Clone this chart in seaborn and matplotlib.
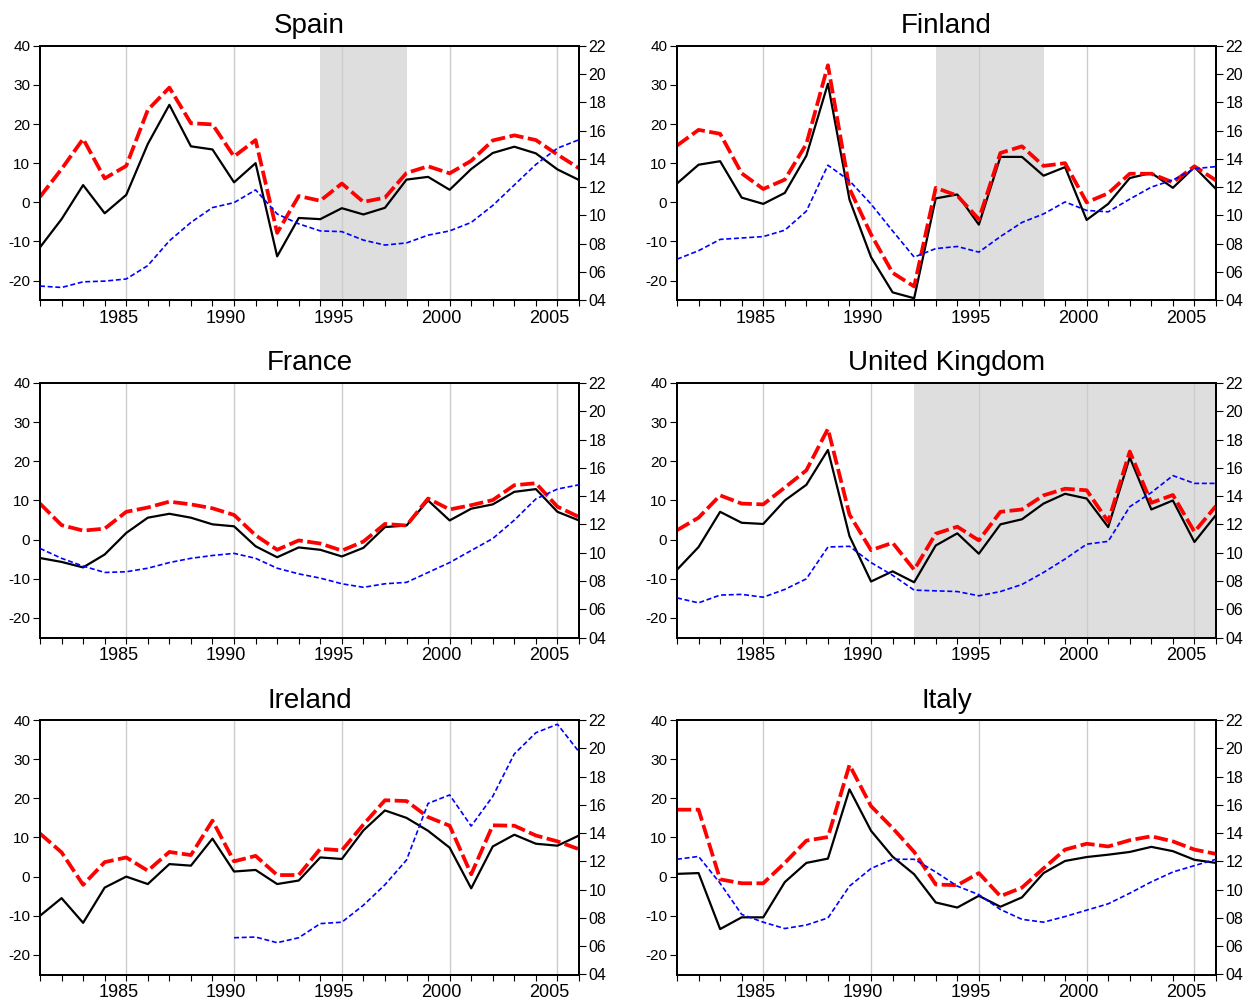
import numpy as np
import pandas as pd
import matplotlib
matplotlib.use("Agg")
import matplotlib.pyplot as plt
import matplotlib.transforms as mtransforms
from matplotlib.ticker import FixedLocator, MultipleLocator, FuncFormatter
import seaborn as sns

# ---------------- data ----------------
years = list(range(1981, 2007))

spain_black = [-11.5, -4.3, 4.4, -2.8, 1.9, 14.9, 24.9, 14.3, 13.5, 5.1, 10.0, -13.8, -4.0,
               -4.3, -1.5, -3.1, -1.4, 5.8, 6.5, 3.2, 8.5, 12.6, 14.2, 12.5, 8.4, 5.7]
spain_red = [1.4, 8.5, 16.2, 6.1, 9.3, 23.6, 29.3, 20.2, 19.9, 11.7, 15.9, -7.8, 1.6,
             0.4, 4.8, 0.1, 1.2, 7.5, 9.2, 7.4, 10.6, 15.8, 17.1, 15.9, 12.2, 8.7]
spain_blue = [5.0, 4.9, 5.3, 5.35, 5.5, 6.45, 8.2, 9.5, 10.55, 10.9, 11.8, 10.1, 9.4,
              8.9, 8.85, 8.25, 7.9, 8.05, 8.6, 8.9, 9.5, 10.7, 12.15, 13.6, 14.75, 15.35]

finland_black = [4.8, 9.6, 10.5, 1.2, -0.4, 2.4, 11.9, 30.3, 0.7, -14.0, -23.0, -24.5, 1.0,
                 2.0, -5.7, 11.6, 11.6, 6.8, 9.0, -4.5, -0.4, 6.2, 7.5, 3.7, 9.0, 3.4]
finland_red = [14.5, 18.5, 17.5, 7.4, 3.4, 5.8, 14.9, 35.0, 3.5, -8.2, -18.0, -21.5, 3.7,
               1.7, -4.3, 12.6, 14.3, 9.3, 10.0, 0.0, 2.3, 7.3, 7.3, 5.1, 9.2, 5.6]
finland_blue = [6.9, 7.5, 8.3, 8.4, 8.5, 8.95, 10.3, 13.55, 12.45, 10.8, 8.9, 7.05, 7.65,
                7.8, 7.4, 8.5, 9.5, 10.1, 10.95, 10.35, 10.25, 11.15, 12.0, 12.5, 13.3, 13.45]

france_black = [-4.7, -5.7, -7.1, -3.8, 1.7, 5.6, 6.6, 5.6, 3.9, 3.4, -1.7, -4.5, -2.0,
                -2.6, -4.3, -2.1, 3.2, 3.6, 10.0, 4.9, 7.9, 9.0, 12.2, 12.9, 7.1, 4.9]
france_red = [9.2, 3.7, 2.3, 2.8, 7.1, 8.2, 9.7, 9.0, 8.0, 6.3, 1.1, -2.6, -0.2,
              -1.0, -2.8, -0.5, 4.0, 3.6, 10.5, 7.7, 8.8, 10.1, 13.9, 14.4, 8.4, 5.8]
france_blue = [10.3, 9.6, 9.05, 8.6, 8.65, 8.9, 9.3, 9.6, 9.8, 9.95, 9.6, 8.9, 8.5,
               8.2, 7.8, 7.55, 7.8, 7.9, 8.6, 9.3, 10.15, 11.0, 12.3, 13.8, 14.5, 14.8]

uk_black = [-7.7, -1.9, 7.1, 4.3, 4.0, 10.0, 14.0, 22.9, 0.9, -10.7, -8.1, -10.9, -1.5,
            1.6, -3.6, 3.9, 5.2, 9.2, 11.7, 10.5, 3.2, 21.0, 7.7, 10.0, -0.6, 6.3]
uk_red = [2.4, 5.6, 11.3, 9.2, 9.0, 13.3, 17.7, 28.3, 6.4, -2.7, -0.8, -7.7, 1.5,
          3.3, -0.2, 7.1, 7.7, 11.3, 13.0, 12.6, 4.6, 22.5, 9.4, 11.4, 2.0, 8.6]
uk_blue = [6.8, 6.45, 7.0, 7.05, 6.85, 7.4, 8.15, 10.4, 10.45, 9.3, 8.4, 7.35, 7.3,
           7.25, 6.95, 7.25, 7.75, 8.6, 9.55, 10.6, 10.8, 13.25, 14.25, 15.45, 14.9, 14.9]

ireland_black = [-10.0, -5.5, -11.8, -2.8, 0.0, -1.9, 3.2, 2.8, 9.7, 1.3, 1.7, -1.9, -1.0,
                 4.9, 4.5, 11.8, 16.9, 15.0, 11.7, 7.4, -3.0, 7.7, 10.7, 8.4, 7.9, 10.5]
ireland_red = [11.0, 6.2, -2.1, 3.7, 4.9, 1.5, 6.3, 5.5, 14.3, 3.9, 5.3, 0.4, 0.4,
               7.1, 6.7, 13.3, 19.5, 19.3, 15.2, 13.0, 0.6, 13.1, 13.0, 10.5, 9.0, 7.0]
ireland_blue_years = list(range(1990, 2007))
ireland_blue = [6.6, 6.65, 6.25, 6.6, 7.6, 7.7, 8.9, 10.35, 12.1, 16.1, 16.7, 14.5,
                16.6, 19.6, 21.1, 21.7, 19.75]

italy_black = [0.7, 0.9, -13.4, -10.4, -10.4, -1.4, 3.5, 4.6, 22.3, 11.7, 5.1, 0.6, -6.6,
               -7.9, -4.9, -7.7, -5.3, 0.9, 4.0, 5.0, 5.6, 6.3, 7.6, 6.5, 4.3, 3.5]
italy_red = [17.1, 17.1, -0.7, -1.7, -1.7, 3.5, 9.2, 10.1, 28.5, 18.0, 12.4, 6.3, -2.0,
             -2.2, 0.9, -5.0, -2.8, 2.1, 6.9, 8.4, 7.7, 9.3, 10.3, 9.0, 6.9, 5.8]
italy_blue = [12.15, 12.35, 10.45, 8.25, 7.7, 7.25, 7.5, 8.0, 10.25, 11.5, 12.15, 12.15, 11.25,
              10.25, 9.65, 8.6, 7.9, 7.7, 8.1, 8.55, 9.0, 9.75, 10.55, 11.25, 11.7, 12.15]

countries = ["Spain", "Finland", "France", "United Kingdom", "Ireland", "Italy"]
shaded = {"Spain": (1994, 1998), "Finland": (1993, 1998), "United Kingdom": (1992, 2006)}

left_ticks = [-20, -10, 0, 10, 20, 30, 40]
right_ticks = [4, 6, 8, 10, 12, 14, 16, 18, 20, 22]
x_major = [1985, 1990, 1995, 2000, 2005]

panel_data = {
    "Spain": (years, spain_black, spain_red, years, spain_blue),
    "Finland": (years, finland_black, finland_red, years, finland_blue),
    "France": (years, france_black, france_red, years, france_blue),
    "United Kingdom": (years, uk_black, uk_red, years, uk_blue),
    "Ireland": (years, ireland_black, ireland_red, ireland_blue_years, ireland_blue),
    "Italy": (years, italy_black, italy_red, years, italy_blue),
}

# ---------------- style ----------------
sns.set_theme(style="ticks")
plt.rcParams["font.family"] = ["Liberation Sans", "DejaVu Sans"]

fig = plt.figure(figsize=(12.59, 10.07), dpi=100)

W, H = 1259.0, 1007.0
col_left = [40, 677]
col_w = 539
row_top = [45.7, 383, 720]
row_h = 254.5

for i, name in enumerate(countries):
    r, c = divmod(i, 2)
    x0 = col_left[c] / W
    y0 = 1 - (row_top[r] + row_h) / H
    ax = fig.add_axes([x0, y0, col_w / W, row_h / H])
    yrs, blk, red, byrs, blu = panel_data[name]

    ax.set_xlim(1981, 2006)
    ax.set_ylim(-25, 40)

    if name in shaded:
        a, b = shaded[name]
        ax.axvspan(a, b, color="#dedede", lw=0, zorder=0)
    for xv in x_major:
        ax.axvline(xv, color="#cccccc", lw=1.0, zorder=0.5)

    sns.lineplot(x=yrs, y=blk, ax=ax, color="black", linewidth=1.6, zorder=3)
    sns.lineplot(x=yrs, y=red, ax=ax, color="#ff0000", linewidth=2.7, zorder=4)
    ax.lines[-1].set_dashes((3.8, 1.2))

    ax2 = ax.twinx()
    sns.lineplot(x=byrs, y=blu, ax=ax2, color="#0000ff", linewidth=1.2, zorder=3)
    ax2.lines[-1].set_dashes((3.0, 1.6))
    ax2.set_ylim(4, 22)
    ax2.set_xlim(1981, 2006)

    # ticks
    ax.xaxis.set_major_locator(FixedLocator(x_major))
    ax.xaxis.set_minor_locator(MultipleLocator(1))
    ax.yaxis.set_major_locator(FixedLocator(left_ticks))
    ax.yaxis.set_major_formatter(FuncFormatter(lambda v, p: f"{int(v)}"))
    ax2.yaxis.set_major_locator(FixedLocator(right_ticks))
    ax2.yaxis.set_major_formatter(FuncFormatter(lambda v, p: f"{int(v):02d}"))

    ax.tick_params(axis="x", which="both", direction="out", length=4, width=0.8,
                   pad=3, labelsize=13, colors="black")
    ax.tick_params(axis="y", which="major", direction="out", length=5, width=0.8,
                   pad=2, labelsize=11, colors="black")
    ax2.tick_params(axis="y", which="major", direction="out", length=5, width=0.8,
                    pad=2, labelsize=11.5, colors="black")
    for lab in ax.get_xticklabels():
        lab.set_transform(lab.get_transform() + mtransforms.ScaledTranslation(-8 / 100, 0, fig.dpi_scale_trans))

    ax.set_xlabel("")
    ax.set_ylabel("")
    ax2.set_ylabel("")
    for sp in list(ax.spines.values()) + list(ax2.spines.values()):
        sp.set_color("black")
        sp.set_linewidth(1.3)
    ax2.spines["right"].set_visible(True)
    ax.spines["top"].set_visible(True)
    ax.spines["right"].set_visible(True)

    ax.set_title(name, fontsize=20, pad=9, color="black")

fig.savefig("out.png", dpi=100)
